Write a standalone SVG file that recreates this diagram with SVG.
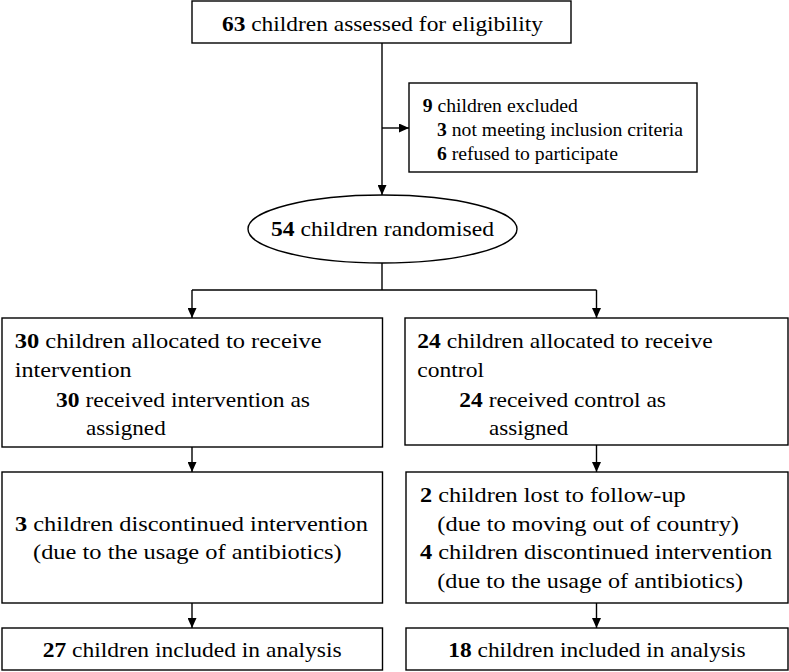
<svg xmlns="http://www.w3.org/2000/svg" width="789" height="672" viewBox="0 0 789 672">
<style>
  .box { fill: #fff; stroke: #000; stroke-width: 1.4; }
  text { font-family: 'Liberation Serif', 'Times New Roman', Tinos, 'DejaVu Serif', serif; fill: #000; }
  .t { font-size: 22px; }
  .ts { font-size: 19.7px; }
  .b { font-weight: bold; }
  .c { fill: none; stroke: #000; stroke-width: 1.4; }
</style>
<defs>
  <marker id="ah" markerUnits="userSpaceOnUse" markerWidth="10" markerHeight="9" refX="10" refY="4.5" orient="auto">
    <path d="M0,0 L10,4.5 L0,9 z" fill="#000"/>
  </marker>
</defs>
<rect width="789" height="672" fill="#fff"/>

<g id="connectors">
  <path class="c" d="M382,43 V195" marker-end="url(#ah)"/>
  <path class="c" d="M382,128 H409" marker-end="url(#ah)"/>
  <path class="c" d="M382,263 V290"/>
  <path class="c" d="M192,290 H596.5"/>
  <path class="c" d="M192,290 V318" marker-end="url(#ah)"/>
  <path class="c" d="M596.5,290 V318" marker-end="url(#ah)"/>
  <path class="c" d="M192,447 V472" marker-end="url(#ah)"/>
  <path class="c" d="M596.5,445 V472" marker-end="url(#ah)"/>
  <path class="c" d="M192,603 V628" marker-end="url(#ah)"/>
  <path class="c" d="M596.5,603 V628" marker-end="url(#ah)"/>
</g>

<g id="assessed" font-family="Liberation Serif, serif">
  <rect class="box" x="192" y="1" width="379" height="42"/>
  <text class="t" x="222" y="31" textLength="321" lengthAdjust="spacingAndGlyphs"><tspan class="b">63</tspan> children assessed for eligibility</text>
</g>

<g id="excluded" font-family="Liberation Serif, serif">
  <rect class="box" x="409" y="83" width="288" height="89"/>
  <text class="ts" x="422.7" y="112"><tspan class="b">9</tspan> children excluded</text>
  <text class="ts" x="437" y="136"><tspan class="b">3</tspan> not meeting inclusion criteria</text>
  <text class="ts" x="437" y="160"><tspan class="b">6</tspan> refused to participate</text>
</g>

<g id="randomised" font-family="Liberation Serif, serif">
  <ellipse class="box" cx="382.5" cy="229" rx="134.5" ry="34"/>
  <text class="t" x="271" y="236" textLength="223" lengthAdjust="spacingAndGlyphs"><tspan class="b">54</tspan> children randomised</text>
</g>

<g id="alloc-intervention" font-family="Liberation Serif, serif">
  <rect class="box" x="2" y="318" width="380.5" height="129"/>
  <text class="t" x="14.7" y="348" textLength="307" lengthAdjust="spacingAndGlyphs"><tspan class="b">30</tspan> children allocated to receive</text>
  <text class="t" x="14.7" y="377" textLength="117" lengthAdjust="spacingAndGlyphs">intervention</text>
  <text class="t" x="56" y="406.5" textLength="254" lengthAdjust="spacingAndGlyphs"><tspan class="b">30</tspan> received intervention as</text>
  <text class="t" x="86" y="435" textLength="79.7" lengthAdjust="spacingAndGlyphs">assigned</text>
</g>

<g id="alloc-control" font-family="Liberation Serif, serif">
  <rect class="box" x="405" y="318" width="383" height="127"/>
  <text class="t" x="417.3" y="348" textLength="295.4" lengthAdjust="spacingAndGlyphs"><tspan class="b">24</tspan> children allocated to receive</text>
  <text class="t" x="417.3" y="377" textLength="66.7" lengthAdjust="spacingAndGlyphs">control</text>
  <text class="t" x="459.3" y="406.5" textLength="206.7" lengthAdjust="spacingAndGlyphs"><tspan class="b">24</tspan> received control as</text>
  <text class="t" x="489" y="435" textLength="79.3" lengthAdjust="spacingAndGlyphs">assigned</text>
</g>

<g id="followup-intervention" font-family="Liberation Serif, serif">
  <rect class="box" x="2" y="472" width="380.5" height="131"/>
  <text class="t" x="15" y="531" textLength="353" lengthAdjust="spacingAndGlyphs"><tspan class="b">3</tspan> children discontinued intervention</text>
  <text class="t" x="33" y="559" textLength="308.7" lengthAdjust="spacingAndGlyphs">(due to the usage of antibiotics)</text>
</g>

<g id="followup-control" font-family="Liberation Serif, serif">
  <rect class="box" x="406" y="472" width="382" height="131"/>
  <text class="t" x="420" y="502" textLength="265.7" lengthAdjust="spacingAndGlyphs"><tspan class="b">2</tspan> children lost to follow-up</text>
  <text class="t" x="437.3" y="531" textLength="301.7" lengthAdjust="spacingAndGlyphs">(due to moving out of country)</text>
  <text class="t" x="420" y="559.3" textLength="352.3" lengthAdjust="spacingAndGlyphs"><tspan class="b">4</tspan> children discontinued intervention</text>
  <text class="t" x="437.3" y="588" textLength="305.7" lengthAdjust="spacingAndGlyphs">(due to the usage of antibiotics)</text>
</g>

<g id="analysis-intervention" font-family="Liberation Serif, serif">
  <rect class="box" x="2" y="628" width="380.5" height="42"/>
  <text class="t" x="42.7" y="656.7" textLength="299" lengthAdjust="spacingAndGlyphs"><tspan class="b">27</tspan> children included in analysis</text>
</g>

<g id="analysis-control" font-family="Liberation Serif, serif">
  <rect class="box" x="406" y="628" width="382" height="42"/>
  <text class="t" x="448.3" y="656.7" textLength="297.4" lengthAdjust="spacingAndGlyphs"><tspan class="b">18</tspan> children included in analysis</text>
</g>
</svg>
